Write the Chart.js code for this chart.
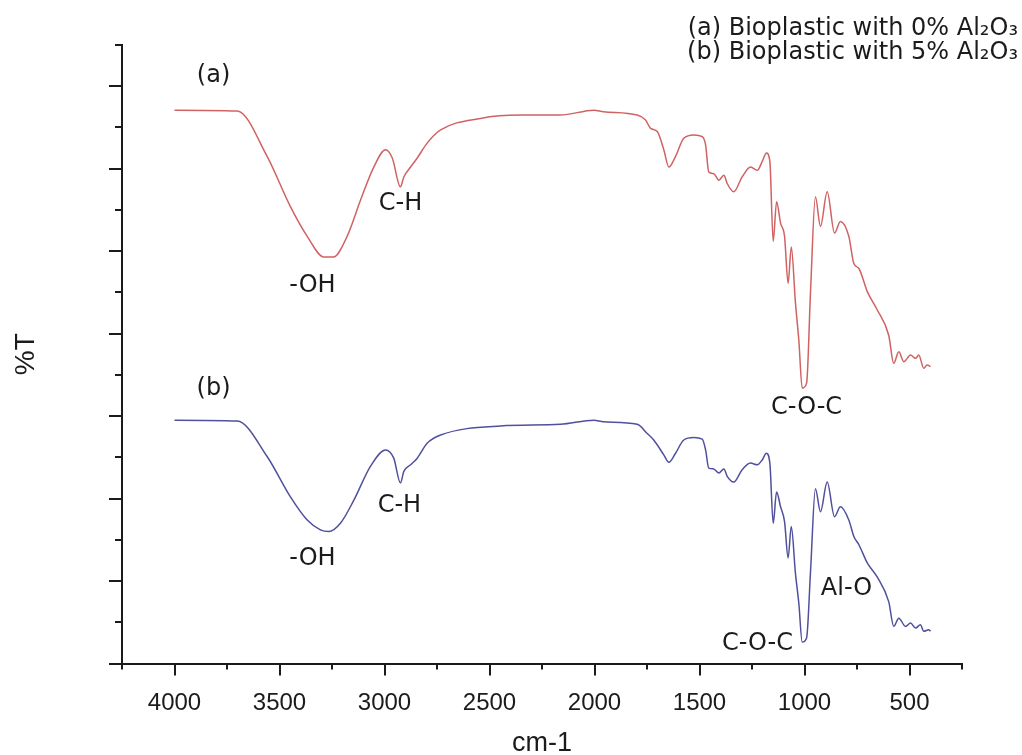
<!DOCTYPE html>
<html>
<head>
<meta charset="utf-8">
<title>FTIR spectra</title>
<script src="https://cdn.jsdelivr.net/npm/chart.js@4.4.1/dist/chart.umd.min.js"></script>
<style>
	html, body { margin: 0; padding: 0; background: #fff; }
	#wrap { width: 1022px; height: 755px; }
</style>
</head>
<body>
<div id="wrap"><canvas id="ftir" width="1022" height="755"></canvas></div>
<script>
(function() {
	'use strict';

	// (a) Bioplastic with 0% Al2O3 - wavenumber (cm-1) and %T (arbitrary offset units)
	var waveA = [4000, 3701, 3559, 3448, 3368, 3289, 3243, 3178, 3114, 3051, 2995, 2963, 2924, 2908, 2876,
		2844, 2797, 2733, 2543, 2352, 2162, 2003, 1957, 1797, 1757, 1733, 1701, 1670, 1646, 1614, 1575, 1527,
		1487, 1471, 1456, 1432, 1408, 1384, 1368, 1337, 1297, 1257, 1225, 1201, 1181, 1165, 1149, 1133, 1114,
		1095, 1078, 1063, 1043, 1027, 1011, 990, 971, 948, 924, 892, 857, 829, 789, 765, 741, 701, 654, 599,
		575, 551, 527, 495, 471, 456, 432, 416, 400];
	var transA = [6.71, 6.70, 6.15, 5.54, 5.18, 4.93, 4.93, 5.18, 5.62, 6.02, 6.23, 6.13, 5.78, 5.90, 6.02,
		6.13, 6.31, 6.47, 6.61, 6.65, 6.65, 6.71, 6.69, 6.65, 6.59, 6.49, 6.45, 6.23, 6.02, 6.15, 6.37, 6.41,
		6.39, 6.29, 5.96, 5.94, 5.86, 5.92, 5.82, 5.72, 5.90, 6.02, 5.98, 6.09, 6.19, 6.09, 5.12, 5.60, 5.34,
		5.18, 4.61, 5.05, 4.37, 3.92, 3.34, 3.40, 4.53, 5.66, 5.30, 5.72, 5.22, 5.36, 5.18, 4.85, 4.79, 4.51,
		4.29, 3.98, 3.64, 3.78, 3.66, 3.74, 3.70, 3.74, 3.58, 3.62, 3.60];

	// (b) Bioplastic with 5% Al2O3
	var waveB = [4000, 3701, 3559, 3448, 3368, 3305, 3265, 3210, 3146, 3067, 2995, 2956, 2924, 2908, 2876,
		2844, 2797, 2733, 2448, 2162, 2003, 1957, 1797, 1749, 1718, 1670, 1646, 1614, 1575, 1527, 1487, 1471,
		1456, 1432, 1408, 1384, 1368, 1337, 1297, 1257, 1225, 1201, 1182, 1165, 1149, 1133, 1114, 1095, 1078,
		1063, 1043, 1027, 1011, 990, 971, 948, 924, 892, 857, 829, 789, 765, 741, 701, 654, 599, 575, 551,
		519, 495, 471, 448, 432, 408, 400];
	var transB = [2.95, 2.94, 2.51, 2.02, 1.74, 1.62, 1.60, 1.70, 1.98, 2.39, 2.59, 2.49, 2.19, 2.33, 2.41,
		2.49, 2.67, 2.77, 2.88, 2.90, 2.95, 2.93, 2.90, 2.79, 2.71, 2.53, 2.44, 2.55, 2.71, 2.74, 2.72, 2.59,
		2.37, 2.36, 2.31, 2.36, 2.27, 2.20, 2.35, 2.43, 2.41, 2.47, 2.55, 2.43, 1.70, 2.08, 1.90, 1.72, 1.28,
		1.66, 1.09, 0.73, 0.26, 0.31, 1.13, 2.12, 1.84, 2.20, 1.78, 1.90, 1.74, 1.54, 1.44, 1.22, 1.05, 0.75,
		0.45, 0.55, 0.45, 0.49, 0.43, 0.47, 0.39, 0.41, 0.39];

	// Axis ranges and tick steps
	var xRange = [250, 4250];
	var yRange = [0, 7.5];
	var xMajorStep = 500;

	// Band labels placed in data coordinates [text, wavenumber, %T]
	var bandLabels = [
		['(a)', 3814, 7.05],
		['-OH', 3343, 4.50],
		['C-H', 2924, 5.50],
		['C-O-C', 990, 3.02],
		['(b)', 3814, 3.26],
		['-OH', 3343, 1.19],
		['C-H', 2929, 1.84],
		['C-O-C', 1224, 0.16],
		['Al-O', 800, 0.83]
	];

	var legendLines = ['(a) Bioplastic with 0% Al\u2082O\u2083', '(b) Bioplastic with 5% Al\u2082O\u2083'];

	var axisColor = '#1b1b1b';
	var textColor = '#1b1b1b';
	var sansFont = '"Liberation Sans", Arial, Helvetica, sans-serif';
	var labelFont = '"DejaVu Sans", Verdana, sans-serif';

	function toPoints(xs, ys) {
		return xs.map(function(x, i) {
			return { x: x, y: ys[i] };
		});
	}

	/**
	 * Ticks, axis titles, band labels and the legend text.
	 */
	var decorPlugin = {
		id: 'ftirDecor',
		afterDraw: function(chart) {
			var ctx = chart.ctx;
			var xs = chart.scales.x;
			var ys = chart.scales.y;
			var area = chart.chartArea;

			ctx.save();
			ctx.strokeStyle = axisColor;
			ctx.lineWidth = 2;

			// x ticks, down
			xs.ticks.forEach(function(t) {
				var px = Math.round(xs.getPixelForValue(t.value));
				var len = t.value % xMajorStep === 0 ? 12 : 6;
				ctx.beginPath();
				ctx.moveTo(px, area.bottom);
				ctx.lineTo(px, area.bottom + len);
				ctx.stroke();
			});

			// y ticks, left
			ys.ticks.forEach(function(t) {
				var py = Math.round(ys.getPixelForValue(t.value));
				var len = Number.isInteger(t.value) ? 13 : 7;
				ctx.beginPath();
				ctx.moveTo(area.left, py);
				ctx.lineTo(area.left - len, py);
				ctx.stroke();
			});

			// axis titles
			ctx.fillStyle = textColor;
			ctx.textAlign = 'center';
			ctx.textBaseline = 'middle';
			ctx.font = '27px ' + sansFont;
			ctx.fillText('cm-1', (area.left + area.right) / 2, 744);

			ctx.save();
			ctx.translate(26, (area.top + area.bottom) / 2);
			ctx.rotate(-Math.PI / 2);
			ctx.font = '28px ' + sansFont;
			ctx.fillText('%T', 0, 0);
			ctx.restore();

			// band labels
			ctx.font = '24px ' + labelFont;
			ctx.textBaseline = 'alphabetic';
			bandLabels.forEach(function(b) {
				ctx.fillText(b[0], xs.getPixelForValue(b[1]), ys.getPixelForValue(b[2]));
			});

			// legend text, top right
			ctx.textAlign = 'right';
			ctx.font = '24px ' + labelFont;
			legendLines.forEach(function(line, i) {
				ctx.fillText(line, 1018, 35 + i * 24);
			});

			ctx.restore();
		}
	};

	var ftirChart = {
		chart: null,

		/**
		 * Build the chart.
		 */
		init: function() {
			var ctx = document.getElementById('ftir').getContext('2d');

			this.chart = new Chart(ctx, {
				type: 'line',
				data: {
					datasets: [{
						label: '(a) Bioplastic with 0% Al2O3',
						data: toPoints(waveA, transA),
						borderColor: '#d06262',
						borderWidth: 1.5,
						pointRadius: 0,
						cubicInterpolationMode: 'monotone',
						fill: false
					}, {
						label: '(b) Bioplastic with 5% Al2O3',
						data: toPoints(waveB, transB),
						borderColor: '#50509c',
						borderWidth: 1.5,
						pointRadius: 0,
						cubicInterpolationMode: 'monotone',
						fill: false
					}]
				},
				options: {
					responsive: false,
					animation: false,
					devicePixelRatio: 1,
					layout: {
						padding: { top: 45, right: 60, left: 0, bottom: 0 }
					},
					plugins: {
						legend: { display: false },
						tooltip: { enabled: false }
					},
					scales: {
						x: {
							type: 'linear',
							reverse: true,
							min: xRange[0],
							max: xRange[1],
							grid: { display: false },
							border: { display: true, color: axisColor, width: 2 },
							ticks: {
								stepSize: 250,
								autoSkip: false,
								maxRotation: 0,
								padding: 17,
								color: textColor,
								font: { family: sansFont, size: 24 },
								callback: function(value) {
									return value % xMajorStep === 0 ? value : '';
								}
							},
							afterFit: function(scale) {
								scale.height = 91.5;
							}
						},
						y: {
							min: yRange[0],
							max: yRange[1],
							grid: { display: false },
							border: { display: true, color: axisColor, width: 2 },
							ticks: {
								stepSize: 0.5,
								display: false
							},
							afterFit: function(scale) {
								scale.width = 122;
							}
						}
					}
				},
				plugins: [decorPlugin]
			});
		}
	};

	ftirChart.init();
})();
</script>
</body>
</html>
